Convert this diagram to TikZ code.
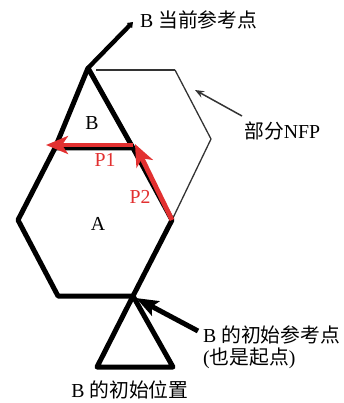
\documentclass[tikz,border=0pt]{standalone}
\usepackage{fontspec}
\setmainfont{Liberation Serif}
\newfontfamily\cjk{Noto Sans CJK SC}
\usetikzlibrary{arrows.meta}
\definecolor{moveRed}{RGB}{226,48,48}

\begin{document}
\begin{tikzpicture}[
  x=1pt, y=-1pt,
  >={Stealth},
  poly/.style   = {line width=5pt, line join=round, line cap=round, black},
  nfpline/.style= {line width=1.3pt, line join=miter, black!80},
  movearr/.style= {-{Stealth[length=22pt,width=18pt,inset=6pt]}, line width=4.8pt, moveRed},
  callout/.style= {-{Stealth[length=22pt,width=16pt,inset=4pt]}, line width=5pt, black},
  thinarr/.style= {-{Stealth[length=9pt,width=7pt]}, line width=1.5pt, black!80},
  lbl/.style    = {font=\fontsize{19.8}{24}\selectfont, inner sep=0pt},
  redlbl/.style = {lbl, moveRed},
]
\useasboundingbox (0,0) rectangle (344,403);

%% ------------------------------------------------------------------ POINTS
\coordinate (refNow)  at (88,68);
\coordinate (refTip)  at (133,22);
% polygon A
\coordinate (aL)  at (18,220);
\coordinate (aTL) at (55,148);
\coordinate (aTR) at (133,148);
\coordinate (aR)  at (172,220);
\coordinate (aBR) at (133,296);
\coordinate (aBL) at (58,296);
% B at start
\coordinate (bL) at (97,367);
\coordinate (bR) at (173,367);
% partial NFP
\coordinate (nfpA) at (96,70);
\coordinate (nfpB) at (175,70);
\coordinate (nfpC) at (211,139);
% moves
\coordinate (p1From) at (133,145);
\coordinate (p1To)   at (46,145);
\coordinate (p2To)   at (135,144);
\coordinate (nfpTail) at (242,116);
\coordinate (nfpHead) at (195,90);
\coordinate (iniTail) at (198,331);
\coordinate (iniHead) at (136,298);

%% ------------------------------------------------------------------ SHAPES
\draw[nfpline, line width=2pt] (nfpA) -- (nfpB);
\draw[nfpline] (nfpB) -- (nfpC) -- (aR);
\draw[poly] (aTL) -- (aL) -- (aBL) -- (aBR) -- (aR) -- (aTR) -- cycle;
\draw[poly] (aTL) -- (refNow) -- (aTR);
\draw[poly, line width=4.4pt, -{Triangle[length=5pt,width=7pt]}] (refNow) -- (refTip);
\draw[poly] (aBR) -- (bL) -- (bR) -- cycle;

% translation vectors
\draw[movearr] (p1From) -- (p1To);
\draw[movearr] (aR) -- (p2To);

% pointers
\draw[thinarr] (nfpTail) -- (nfpHead);
\draw[callout] (iniTail) -- (iniHead);

%% ------------------------------------------------------------------ LABELS
\node[lbl] (labB) at (92,123) {B};
\node[lbl] (labA) at (98,224) {A};
\node[redlbl] (labP1) at (105,160) {P1};
\node[redlbl] (labP2) at (140,197) {P2};

\node[lbl, anchor=west] (txtNow) at (140,20) {B {\cjk 当前参考点}};
\node[lbl, anchor=west] (txtNfp) at (244,131) {{\cjk 部分}NFP};
\node[lbl, anchor=west] (txtIni) at (203,335) {B {\cjk 的初始参考点}};
\node[lbl, anchor=west] (txtIni2) at (203,358) {({\cjk 也是起点})};
\node[lbl] (txtStart) at (130,390) {B {\cjk 的初始位置}};

\end{tikzpicture}
\end{document}
